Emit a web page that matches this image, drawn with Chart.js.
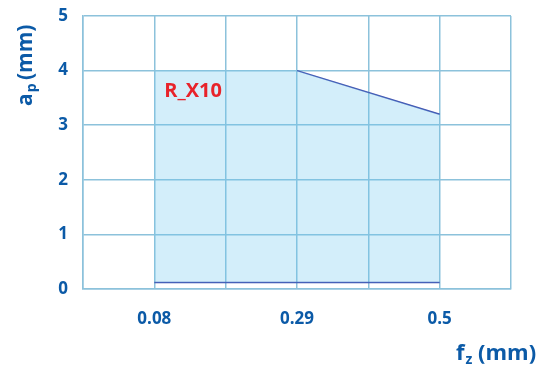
<!DOCTYPE html>
<html>
<head>
<meta charset="utf-8">
<script src="https://cdn.jsdelivr.net/npm/chart.js@4.4.0/dist/chart.umd.min.js"></script>
<style>
    html, body { margin: 0; padding: 0; background: #fff; }
    #wrap { width: 546px; height: 365px; }
</style>
</head>
<body>
<div id="wrap"><canvas id="feedChart" width="546" height="365"></canvas></div>
<script>
// tick labels on the feed axis (one per grid line)
var xTickLabels = ['', '0.08', '', '0.29', '', '0.5', ''];
var yTicks = [0, 1, 2, 3, 4, 5];

// working area of R_X10: outline points (x = grid index, y = ap)
var areaX = [1, 1, 3, 5, 5];
var areaY = [0.12, 4, 4, 3.2, 0.12];
// lower limit line and upper slanted limit
var bottomX = [1, 5];
var bottomY = [0.12, 0.12];
var slopeX = [3, 5];
var slopeY = [4, 3.2];

var regionLabel = 'R_X10';

var blue = '#0b5aa7';
var gridColor = '#8cc2db';
var lineColor = '#3f4fae';

function toPoints(xs, ys) {
    return xs.map(function(x, i) { return { x: x, y: ys[i] }; });
}

// draws axis titles with subscripts and the region label
var textPlugin = {
    id: 'textPlugin',
    afterDraw: function(chart) {
        var c = chart.ctx;
        var xs = chart.scales.x, ys = chart.scales.y;
        c.save();
        c.fillStyle = blue;
        c.textBaseline = 'alphabetic';

        // y title, rotated
        c.save();
        c.translate(32, 106);
        c.rotate(-Math.PI / 2);
        c.font = 'bold 21px "Open Sans"';
        c.fillText('a', 0, 0);
        var w = c.measureText('a').width;
        c.font = 'bold 14px "Open Sans"';
        c.fillText('p', w + 1, 4);
        w += c.measureText('p').width + 1;
        c.font = 'bold 21px "Open Sans"';
        c.fillText(' (mm)', w - 2, 0);
        c.restore();

        // x title
        var x0 = 456, y0 = 360;
        c.font = 'bold 22px "Open Sans"';
        c.fillText('f', x0, y0);
        var wx = c.measureText('f').width;
        c.font = 'bold 14px "Open Sans"';
        c.fillText('z', x0 + wx + 1, y0 + 4);
        wx += c.measureText('z').width + 1;
        c.font = 'bold 22px "Open Sans"';
        c.fillText(' (mm)', x0 + wx, y0);

        // region label
        c.fillStyle = '#e8232a';
        c.font = 'bold 20px "Open Sans"';
        c.textBaseline = 'middle';
        c.fillText(regionLabel, xs.getPixelForValue(1.14), ys.getPixelForValue(3.62));
        c.restore();
    }
};

var ctx = document.getElementById('feedChart').getContext('2d');
var feedChart = new Chart(ctx, {
    type: 'scatter',
    data: {
        datasets: [{
            data: toPoints(areaX, areaY),
            showLine: true,
            fill: { value: 0.12 },
            backgroundColor: 'rgba(110, 200, 240, 0.3)',
            borderWidth: 0,
            borderColor: 'rgba(0,0,0,0)',
            pointRadius: 0,
            tension: 0
        }, {
            data: toPoints(slopeX, slopeY),
            showLine: true,
            borderColor: lineColor,
            borderWidth: 1.5,
            pointRadius: 0
        }, {
            data: toPoints(bottomX, bottomY),
            showLine: true,
            borderColor: lineColor,
            borderWidth: 1.5,
            pointRadius: 0
        }]
    },
    options: {
        responsive: false,
        animation: false,
        layout: { padding: { top: 16, right: 35, left: 0, bottom: 0 } },
        plugins: {
            legend: { display: false },
            tooltip: { enabled: false }
        },
        scales: {
            x: {
                type: 'linear',
                min: 0,
                max: 6,
                afterFit: function(scale) {
                    scale.height = 76;
                    scale.paddingLeft = 0;
                    scale.paddingRight = 0;
                },
                afterBuildTicks: function(scale) {
                    scale.ticks = xTickLabels.map(function(l, i) { return { value: i }; });
                },
                ticks: {
                    padding: 20,
                    color: blue,
                    font: { family: 'Open Sans', size: 17, weight: 'bold' },
                    maxRotation: 0,
                    autoSkip: false,
                    callback: function(v) { return xTickLabels[v]; }
                },
                grid: { color: gridColor, lineWidth: 1.5, drawTicks: false },
                border: { color: gridColor, width: 1.5 }
            },
            y: {
                min: 0,
                max: 5,
                afterFit: function(scale) {
                    scale.width = 83;
                    scale.paddingTop = 0;
                    scale.paddingBottom = 0;
                },
                afterBuildTicks: function(scale) {
                    scale.ticks = yTicks.map(function(v) { return { value: v }; });
                },
                ticks: {
                    padding: 15,
                    color: blue,
                    font: { family: 'Open Sans', size: 17, weight: 'bold' }
                },
                grid: { color: gridColor, lineWidth: 1.5, drawTicks: false },
                border: { color: gridColor, width: 1.5 }
            }
        }
    },
    plugins: [textPlugin]
});
</script>
</body>
</html>
